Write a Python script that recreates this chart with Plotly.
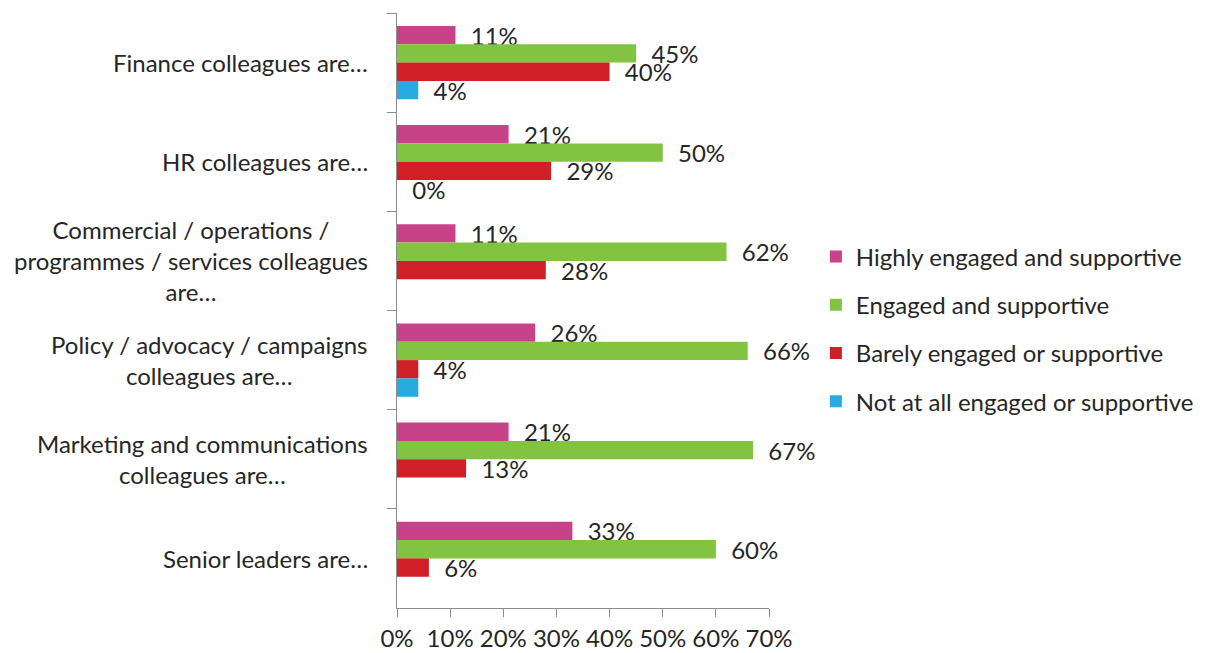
import plotly.graph_objects as go

categories = [
    "Finance colleagues are…",
    "HR colleagues are…",
    "Commercial / operations /<br>programmes / services colleagues<br>are…",
    "Policy / advocacy / campaigns<br>colleagues are…",
    "Marketing and communications<br>colleagues are…",
    "Senior leaders are…",
]
series_names = [
    "Highly engaged and supportive",
    "Engaged and supportive",
    "Barely engaged or supportive",
    "Not at all engaged or supportive",
]
highly = [11, 21, 11, 26, 21, 33]
engaged = [45, 50, 62, 66, 67, 60]
barely = [40, 29, 28, 4, 13, 6]
not_at_all = [4, 0, None, 4, None, None]
not_at_all_labels = ["4%", "0%", "", "", "", ""]

colors = ["#C8428A", "#82C341", "#D01F27", "#29ABE2"]
x_ticks = [0, 10, 20, 30, 40, 50, 60, 70]
x_tick_labels = ["0%", "10%", "20%", "30%", "40%", "50%", "60%", "70%"]

FONT = "Lato, 'Open Sans', sans-serif"
TXT = "#262626"
AX = "#8C8C8C"
PAD = "\u00a0\u00a0"

def lbl(vals):
    return [PAD + f"{v}%" if v is not None else "" for v in vals]

series_vals = [highly, engaged, barely, not_at_all]
series_text = [lbl(highly), lbl(engaged), lbl(barely),
               [PAD + t if t else "" for t in not_at_all_labels]]

fig = go.Figure()
for i, (name, vals, txt) in enumerate(zip(series_names, series_vals, series_text)):
    fig.add_trace(go.Bar(
        y=categories, x=vals, name=name, orientation="h",
        marker=dict(color=colors[i], line=dict(width=0)),
        text=txt, textposition="outside", constraintext="none",
        cliponaxis=False, textfont=dict(family=FONT, size=24, color=TXT),
        legendgroup=f"g{i}", hoverinfo="skip",
    ))

for c in categories:
    fig.add_annotation(
        x=0, xref="paper", y=c, yref="y", xanchor="right", xshift=-27,
        text=c, showarrow=False, align="center",
        font=dict(family=FONT, size=24, color=TXT),
    )

fig.update_layout(
    width=1200, height=645,
    margin=dict(l=389, r=439, t=5, b=45),
    paper_bgcolor="white", plot_bgcolor="white",
    barmode="group", bargap=0.26, bargroupgap=0,
    font=dict(family=FONT, color=TXT),
    showlegend=True,
    legend=dict(
        x=1.126, xanchor="left", y=0.469, yanchor="middle",
        font=dict(family=FONT, size=24, color=TXT),
        tracegroupgap=14, bgcolor="rgba(0,0,0,0)",
    ),
    xaxis=dict(
        range=[0, 70], tickmode="array", tickvals=x_ticks, ticktext=x_tick_labels,
        showgrid=False, zeroline=False, showline=True, linecolor=AX, linewidth=1,
        ticks="outside", ticklen=8, tickcolor=AX, ticklabelstandoff=1,
        automargin=False,
        tickfont=dict(family=FONT, size=24, color=TXT),
    ),
    yaxis=dict(
        autorange="reversed", showticklabels=False, showgrid=False, zeroline=False,
        showline=True, linecolor=AX, linewidth=1, automargin=False,
        ticks="outside", ticklen=9, tickcolor=AX, tickson="boundaries",
    ),
)

fig.write_html("out.html")
